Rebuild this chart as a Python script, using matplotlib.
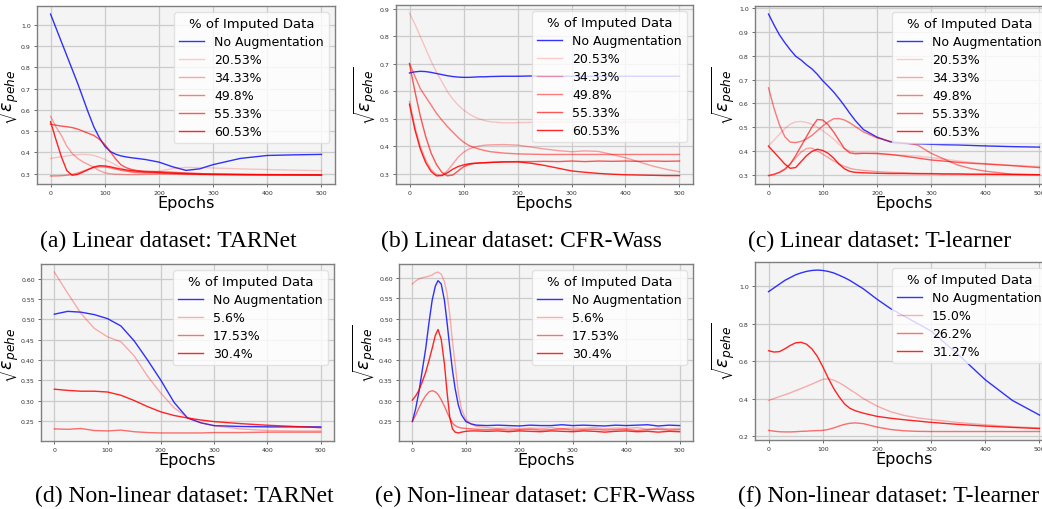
import numpy as np
import matplotlib
matplotlib.use('Agg')
import matplotlib.pyplot as plt

# ---------------- data ----------------
# (a) Linear dataset: TARNet
epochs_a = [0, 10, 20, 30, 40, 50, 60, 70, 80, 90, 100, 110, 120, 130, 140, 150, 160, 175,
            200, 225, 250, 275, 300, 350, 400, 450, 500]
a_no_aug = [1.05, 0.985, 0.92, 0.855, 0.79, 0.725, 0.655, 0.585, 0.52, 0.47, 0.43, 0.405, 0.392,
            0.384, 0.379, 0.375, 0.372, 0.367, 0.355, 0.333, 0.316, 0.323, 0.343, 0.372, 0.386, 0.389, 0.391]
a_2053 = [0.372, 0.376, 0.380, 0.384, 0.388, 0.390, 0.391, 0.390, 0.386, 0.378, 0.368, 0.355, 0.342,
          0.327, 0.315, 0.307, 0.303, 0.303, 0.312, 0.324, 0.330, 0.329, 0.327, 0.323, 0.320, 0.317, 0.315]
a_3433 = [0.57, 0.52, 0.48, 0.43, 0.395, 0.372, 0.356, 0.343, 0.330, 0.315, 0.305, 0.300, 0.298,
          0.297, 0.296, 0.296, 0.296, 0.297, 0.298, 0.298, 0.297, 0.296, 0.295, 0.294, 0.294, 0.293, 0.293]
a_498 = [0.29, 0.29, 0.291, 0.293, 0.297, 0.303, 0.312, 0.322, 0.33, 0.333, 0.332, 0.328, 0.322,
         0.316, 0.312, 0.309, 0.307, 0.305, 0.303, 0.301, 0.300, 0.299, 0.298, 0.297, 0.296, 0.296, 0.295]
a_5533 = [0.533, 0.528, 0.524, 0.521, 0.517, 0.51, 0.5, 0.49, 0.48, 0.462, 0.438, 0.405, 0.37,
          0.342, 0.328, 0.32, 0.315, 0.312, 0.31, 0.307, 0.304, 0.301, 0.299, 0.297, 0.296, 0.295, 0.295]
a_6053 = [0.545, 0.46, 0.38, 0.315, 0.293, 0.297, 0.308, 0.32, 0.332, 0.338, 0.337, 0.333, 0.327,
          0.322, 0.318, 0.315, 0.312, 0.309, 0.306, 0.303, 0.3, 0.298, 0.297, 0.296, 0.295, 0.295, 0.294]

# (b) Linear dataset: CFR-Wass
epochs_b = [0, 10, 20, 30, 40, 50, 60, 70, 80, 90, 100, 110, 120, 130, 140, 150, 175, 200, 225,
            250, 275, 300, 325, 350, 375, 400, 425, 450, 475, 500]
b_no_aug = [0.667, 0.671, 0.673, 0.672, 0.669, 0.665, 0.661, 0.657, 0.654, 0.652, 0.651, 0.651, 0.652,
            0.653, 0.653, 0.654, 0.655, 0.655, 0.656, 0.655, 0.655, 0.655, 0.655, 0.655, 0.655, 0.655,
            0.655, 0.655, 0.655, 0.655]
b_2053 = [0.885, 0.845, 0.80, 0.755, 0.71, 0.67, 0.635, 0.60, 0.572, 0.55, 0.532, 0.518, 0.507, 0.499,
          0.493, 0.489, 0.485, 0.486, 0.487, 0.487, 0.488, 0.488, 0.488, 0.488, 0.488, 0.488, 0.488,
          0.488, 0.488, 0.488]
b_3433 = [0.563, 0.47, 0.40, 0.35, 0.315, 0.297, 0.295, 0.31, 0.335, 0.36, 0.378, 0.39, 0.397, 0.401,
          0.404, 0.405, 0.406, 0.404, 0.397, 0.39, 0.384, 0.38, 0.383, 0.381, 0.37, 0.358, 0.343,
          0.328, 0.316, 0.307]
b_498 = [0.702, 0.655, 0.61, 0.58, 0.55, 0.52, 0.495, 0.472, 0.452, 0.432, 0.415, 0.403, 0.395, 0.389,
         0.384, 0.38, 0.375, 0.372, 0.371, 0.37, 0.37, 0.37, 0.37, 0.37, 0.37, 0.37, 0.37, 0.37, 0.37, 0.37]
b_5533 = [0.70, 0.60, 0.51, 0.435, 0.375, 0.333, 0.305, 0.292, 0.295, 0.31, 0.325, 0.333, 0.337, 0.339,
          0.34, 0.341, 0.343, 0.344, 0.344, 0.345, 0.344, 0.346, 0.344, 0.346, 0.345, 0.346, 0.345,
          0.346, 0.345, 0.346]
b_6053 = [0.553, 0.46, 0.39, 0.34, 0.308, 0.292, 0.293, 0.303, 0.316, 0.326, 0.332, 0.336, 0.338, 0.339,
          0.34, 0.341, 0.343, 0.343, 0.338, 0.33, 0.32, 0.31, 0.305, 0.301, 0.298, 0.296, 0.295,
          0.294, 0.293, 0.293]

# (c) Linear dataset: T-learner
epochs_c = [0, 10, 20, 30, 40, 50, 60, 70, 80, 90, 100, 110, 120, 130, 140, 150, 160, 175, 200,
            225, 250, 275, 300, 325, 350, 375, 400, 450, 500]
c_no_aug = [0.975, 0.93, 0.888, 0.855, 0.825, 0.798, 0.782, 0.762, 0.745, 0.722, 0.695, 0.672, 0.648,
            0.62, 0.59, 0.558, 0.528, 0.49, 0.458, 0.438, 0.432, 0.43, 0.428, 0.426, 0.425, 0.423,
            0.421, 0.418, 0.416]
c_2053 = [0.422, 0.445, 0.47, 0.494, 0.512, 0.522, 0.524, 0.52, 0.512, 0.5, 0.485, 0.468, 0.45, 0.428,
          0.41, 0.4, 0.394, 0.39, 0.386, 0.384, 0.382, 0.378, 0.372, 0.365, 0.358, 0.352, 0.347, 0.34, 0.335]
c_3433 = [0.295, 0.3, 0.31, 0.325, 0.345, 0.37, 0.395, 0.41, 0.412, 0.4, 0.387, 0.372, 0.358, 0.345,
          0.335, 0.327, 0.322, 0.318, 0.313, 0.31, 0.308, 0.306, 0.305, 0.304, 0.303, 0.302, 0.302, 0.301, 0.3]
c_498 = [0.665, 0.58, 0.51, 0.46, 0.437, 0.435, 0.44, 0.45, 0.465, 0.485, 0.505, 0.522, 0.535, 0.536,
         0.53, 0.518, 0.503, 0.48, 0.455, 0.44, 0.435, 0.425, 0.39, 0.365, 0.34, 0.325, 0.315, 0.302, 0.3]
c_5533 = [0.297, 0.302, 0.31, 0.322, 0.345, 0.38, 0.42, 0.46, 0.5, 0.532, 0.53, 0.51, 0.48, 0.445,
          0.41, 0.392, 0.388, 0.39, 0.39, 0.385, 0.378, 0.37, 0.362, 0.357, 0.352, 0.348, 0.345, 0.338, 0.33]
c_6053 = [0.42, 0.395, 0.37, 0.345, 0.327, 0.33, 0.355, 0.38, 0.398, 0.407, 0.402, 0.39, 0.37, 0.345,
          0.325, 0.314, 0.31, 0.308, 0.306, 0.305, 0.305, 0.304, 0.304, 0.303, 0.303, 0.302, 0.302, 0.301, 0.3]

# (d) Non-linear dataset: TARNet
epochs_d = [0, 25, 50, 75, 100, 125, 150, 175, 200, 225, 250, 275, 300, 350, 400, 450, 500]
d_no_aug = [0.513, 0.52, 0.518, 0.512, 0.502, 0.484, 0.447, 0.40, 0.35, 0.295, 0.257, 0.245, 0.238,
            0.236, 0.235, 0.235, 0.235]
d_56 = [0.617, 0.565, 0.515, 0.478, 0.457, 0.445, 0.41, 0.36, 0.318, 0.282, 0.258, 0.245, 0.238,
        0.23, 0.226, 0.225, 0.225]
d_1753 = [0.23, 0.229, 0.231, 0.226, 0.225, 0.227, 0.223, 0.221, 0.22, 0.22, 0.22, 0.22, 0.221,
          0.221, 0.222, 0.222, 0.222]
d_304 = [0.328, 0.325, 0.323, 0.323, 0.321, 0.313, 0.3, 0.285, 0.272, 0.263, 0.257, 0.252, 0.248,
         0.243, 0.239, 0.236, 0.233]

# (e) Non-linear dataset: CFR-Wass
epochs_e = [0, 6, 12, 18, 25, 31, 37, 43, 48, 54, 60, 65, 70, 75, 80, 86, 92, 100, 110, 120, 140,
            160, 180, 200, 220, 240, 260, 280, 300, 320, 340, 360, 380, 400, 420, 440, 460, 480, 500]
e_no_aug = [0.25, 0.28, 0.32, 0.37, 0.428, 0.49, 0.545, 0.58, 0.593, 0.585, 0.545, 0.49, 0.43, 0.375,
            0.33, 0.29, 0.266, 0.25, 0.244, 0.241, 0.240, 0.241, 0.240, 0.239, 0.241, 0.240, 0.240,
            0.242, 0.240, 0.241, 0.240, 0.239, 0.241, 0.240, 0.241, 0.242, 0.239, 0.241, 0.240]
e_56 = [0.585, 0.592, 0.597, 0.6, 0.602, 0.604, 0.607, 0.612, 0.614, 0.609, 0.59, 0.56, 0.51, 0.445,
        0.39, 0.32, 0.28, 0.255, 0.243, 0.238, 0.235, 0.233, 0.234, 0.232, 0.234, 0.233, 0.235, 0.232,
        0.234, 0.233, 0.235, 0.232, 0.234, 0.233, 0.235, 0.231, 0.234, 0.232, 0.233]
e_1753 = [0.25, 0.265, 0.282, 0.298, 0.313, 0.322, 0.325, 0.322, 0.316, 0.303, 0.287, 0.272, 0.258,
          0.246, 0.24, 0.236, 0.234, 0.233, 0.232, 0.231, 0.230, 0.231, 0.229, 0.230, 0.231, 0.229,
          0.230, 0.232, 0.229, 0.230, 0.231, 0.229, 0.230, 0.231, 0.228, 0.230, 0.231, 0.229, 0.230]
e_304 = [0.302, 0.312, 0.325, 0.345, 0.37, 0.398, 0.428, 0.46, 0.474, 0.45, 0.39, 0.32, 0.26, 0.232,
         0.224, 0.222, 0.224, 0.226, 0.227, 0.227, 0.226, 0.227, 0.225, 0.227, 0.226, 0.225, 0.227,
         0.226, 0.225, 0.227, 0.226, 0.224, 0.226, 0.227, 0.225, 0.226, 0.224, 0.226, 0.225]

# (f) Non-linear dataset: T-learner
epochs_f = [0, 10, 20, 30, 40, 50, 60, 70, 80, 90, 100, 110, 120, 130, 140, 150, 160, 175, 200,
            225, 250, 275, 300, 350, 400, 450, 500]
f_no_aug = [0.97, 0.99, 1.01, 1.03, 1.045, 1.06, 1.07, 1.078, 1.083, 1.085, 1.083, 1.078, 1.07,
            1.058, 1.045, 1.03, 1.012, 0.985, 0.93, 0.88, 0.84, 0.80, 0.76, 0.635, 0.5, 0.39, 0.312]
f_150 = [0.39, 0.4, 0.41, 0.42, 0.43, 0.442, 0.453, 0.465, 0.477, 0.49, 0.502, 0.505, 0.498, 0.485,
         0.468, 0.448, 0.43, 0.4, 0.36, 0.33, 0.31, 0.297, 0.288, 0.272, 0.26, 0.25, 0.243]
f_262 = [0.23, 0.226, 0.223, 0.222, 0.222, 0.223, 0.225, 0.226, 0.228, 0.229, 0.23, 0.235, 0.243,
         0.253, 0.262, 0.268, 0.27, 0.266, 0.248, 0.235, 0.228, 0.225, 0.224, 0.224, 0.224, 0.224, 0.224]
f_3127 = [0.655, 0.648, 0.65, 0.665, 0.683, 0.697, 0.7, 0.69, 0.665, 0.625, 0.57, 0.51, 0.455, 0.41,
          0.372, 0.348, 0.335, 0.322, 0.305, 0.295, 0.287, 0.28, 0.273, 0.262, 0.253, 0.246, 0.24]

labels_top = ['20.53%', '34.33%', '49.8%', '55.33%', '60.53%']
captions = ['(a) Linear dataset: TARNet', '(b) Linear dataset: CFR-Wass', '(c) Linear dataset: T-learner',
            '(d) Non-linear dataset: TARNet', '(e) Non-linear dataset: CFR-Wass',
            '(f) Non-linear dataset: T-learner']

panels = [
    (epochs_a, a_no_aug, [a_2053, a_3433, a_498, a_5533, a_6053], labels_top),
    (epochs_b, b_no_aug, [b_2053, b_3433, b_498, b_5533, b_6053], labels_top),
    (epochs_c, c_no_aug, [c_2053, c_3433, c_498, c_5533, c_6053], labels_top),
    (epochs_d, d_no_aug, [d_56, d_1753, d_304], ['5.6%', '17.53%', '30.4%']),
    (epochs_e, e_no_aug, [e_56, e_1753, e_304], ['5.6%', '17.53%', '30.4%']),
    (epochs_f, f_no_aug, [f_150, f_262, f_3127], ['15.0%', '26.2%', '31.27%']),
]

# ---------------- layout (pixel boxes: left, top, right, bottom) ----------------
W, H = 1042, 510
boxes = [(37, 7, 335, 185), (396, 6, 693, 185), (755, 7, 1053, 185),
         (41, 265, 334, 442), (399, 265, 693, 442), (755, 263, 1053, 441)]
ylab_x = [21, 379, 737, 21, 378, 737]   # right edge of the rotated y label
cap_pos = [(168, 241), (521, 241), (880, 241), (184, 496), (535, 496), (889, 496)]

fig = plt.figure(figsize=(W / 100, H / 100), dpi=100)

for i, ((ep, no_aug, reds, labs), (l, t, r, b), cap, (cx, cy)) in enumerate(
        zip(panels, boxes, captions, cap_pos)):
    ax = fig.add_axes([l / W, 1 - b / H, (r - l) / W, (b - t) / H])
    ax.set_facecolor('#f4f4f4')
    ax.grid(True, color='#cccccc', lw=0.9)
    ax.set_axisbelow(True)
    for s in ax.spines.values():
        s.set_color('#7f7f7f')
        s.set_linewidth(1.0)

    ax.plot(ep, no_aug, color='blue', alpha=0.8, lw=1.0, label='No Augmentation')
    if len(reds) == 5:
        alphas = [0.2, 0.35, 0.5, 0.65, 0.85]
    else:
        alphas = [0.3, 0.55, 0.85]
    for vals, lab, al in zip(reds, labs, alphas):
        ax.plot(ep, vals, color='red', alpha=al, lw=1.0, label=lab)

    ax.set_xticks([0, 100, 200, 300, 400, 500])
    ax.tick_params(labelsize=4.5, length=2.5, width=0.6, color='#555555', labelcolor='#333333', pad=2)
    ax.set_xlabel('Epochs', fontsize=11.5, labelpad=0)
    ax.set_ylabel(r'$\sqrt{\varepsilon_{pehe}}$', fontsize=12.5)
    ax.yaxis.set_label_coords((ylab_x[i] - l) / (r - l), 0.5)
    ax.legend(title='% of Imputed Data', loc='upper right', fontsize=9, title_fontsize=9.5,
              framealpha=0.8, edgecolor='#dddddd', borderaxespad=0.5, labelspacing=0.4)
    fig.text(cx / W, 1 - cy / H, cap, ha='center', va='center', fontsize=17,
             family=['Liberation Serif', 'DejaVu Serif'])

fig.savefig('out.png', dpi=100)
